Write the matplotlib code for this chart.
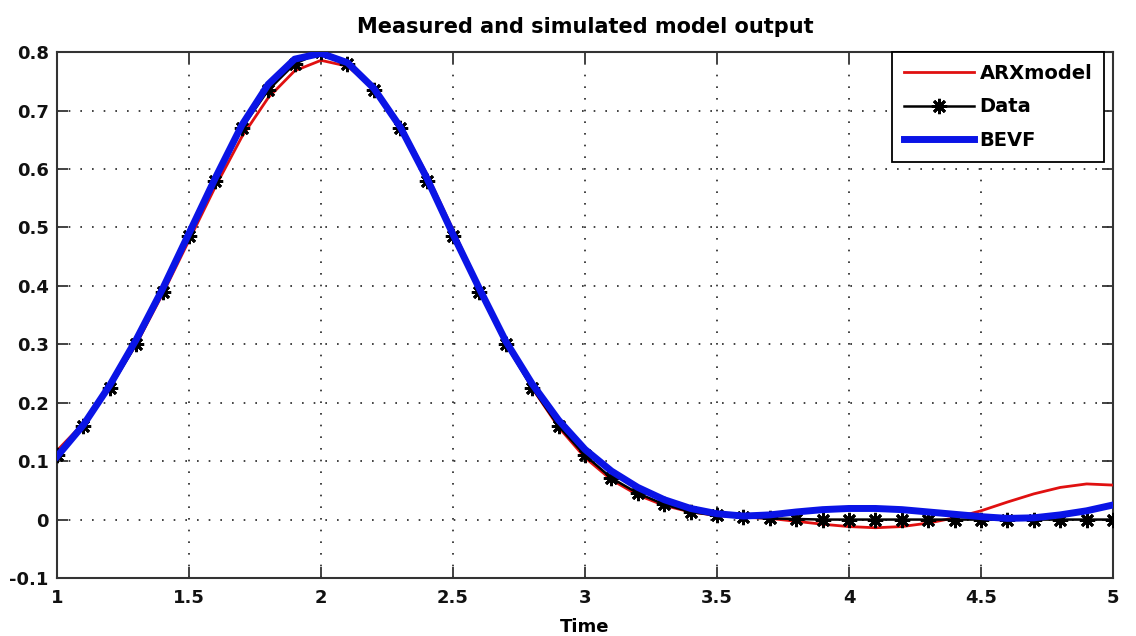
import numpy as np
import matplotlib
matplotlib.use('Agg')
import matplotlib.pyplot as plt

# time axis, 0.1 steps
t = [1.0, 1.1, 1.2, 1.3, 1.4, 1.5, 1.6, 1.7, 1.8, 1.9,
     2.0, 2.1, 2.2, 2.3, 2.4, 2.5, 2.6, 2.7, 2.8, 2.9,
     3.0, 3.1, 3.2, 3.3, 3.4, 3.5, 3.6, 3.7, 3.8, 3.9,
     4.0, 4.1, 4.2, 4.3, 4.4, 4.5, 4.6, 4.7, 4.8, 4.9, 5.0]

data = [0.110, 0.160, 0.225, 0.300, 0.390, 0.485, 0.580, 0.670, 0.735, 0.780,
        0.800, 0.780, 0.735, 0.670, 0.580, 0.485, 0.390, 0.300, 0.225, 0.160,
        0.110, 0.071, 0.045, 0.026, 0.013, 0.007, 0.004, 0.002, 0.001, 0.0,
        0.0, 0.0, 0.0, 0.0, 0.0, 0.0, 0.0, 0.0, 0.0, 0.0, 0.0]

arx = [0.118, 0.165, 0.228, 0.300, 0.386, 0.478, 0.570, 0.655, 0.722, 0.768,
       0.786, 0.776, 0.738, 0.676, 0.592, 0.496, 0.398, 0.305, 0.225, 0.158,
       0.106, 0.068, 0.042, 0.024, 0.013, 0.007, 0.004, 0.002, -0.003, -0.008,
       -0.012, -0.014, -0.012, -0.006, 0.003, 0.015, 0.030, 0.044, 0.055, 0.061, 0.059]

bevf = [0.108, 0.162, 0.230, 0.308, 0.395, 0.490, 0.585, 0.675, 0.745, 0.788,
        0.798, 0.782, 0.738, 0.672, 0.585, 0.488, 0.395, 0.305, 0.232, 0.170,
        0.120, 0.083, 0.055, 0.034, 0.019, 0.010, 0.006, 0.008, 0.013, 0.017,
        0.019, 0.019, 0.017, 0.013, 0.009, 0.005, 0.002, 0.003, 0.008, 0.015, 0.025]

fig = plt.figure(figsize=(11.36, 6.36), dpi=100)
ax = fig.add_axes([0.0502, 0.0912, 0.9296, 0.8268])

ax.plot(t, arx, color='#e01010', lw=2.0, label='ARXmodel', zorder=3)
ax.plot(t, data, color='black', lw=1.8, marker=(8, 2, 0), markersize=11,
        markeredgewidth=2.0, label='Data', zorder=4)
ax.plot(t, bevf, color='#0a14e6', lw=5.0, label='BEVF', zorder=5)

ax.set_xlim(1, 5)
ax.set_ylim(-0.1, 0.8)
ax.set_xticks(np.arange(1, 5.01, 0.5))
ax.set_xticklabels(['1', '1.5', '2', '2.5', '3', '3.5', '4', '4.5', '5'])
ax.set_yticks(np.arange(-0.1, 0.81, 0.1))
ax.set_yticklabels(['-0.1', '0', '0.1', '0.2', '0.3', '0.4', '0.5', '0.6', '0.7', '0.8'])

ax.grid(True, linestyle=(0, (1, 6)), color='#222222', lw=1.2)
ax.tick_params(direction='in', length=8, width=1.3, top=True, right=True,
               labelsize=13, colors='#333333', labelcolor='#111111')
ax.tick_params(axis='x', pad=8)
ax.tick_params(axis='y', pad=6)
for lab in ax.get_xticklabels() + ax.get_yticklabels():
    lab.set_fontweight('bold')
for s in ax.spines.values():
    s.set_linewidth(1.5)
    s.set_color('#333333')

ax.set_xlabel('Time', fontsize=13, fontweight='bold', labelpad=8)
ax.set_title('Measured and simulated model output', fontsize=15, fontweight='bold', pad=14)

leg = ax.legend(loc='upper right', prop={'weight': 'bold', 'size': 14},
                fancybox=False, framealpha=1, edgecolor='black',
                bbox_to_anchor=(0.9915, 1.0), borderaxespad=0.0,
                handlelength=3.6, handletextpad=0.3, labelspacing=0.75,
                borderpad=0.6, markerscale=1.0)
leg.get_frame().set_linewidth(1.3)

fig.savefig('out.png', dpi=100)
